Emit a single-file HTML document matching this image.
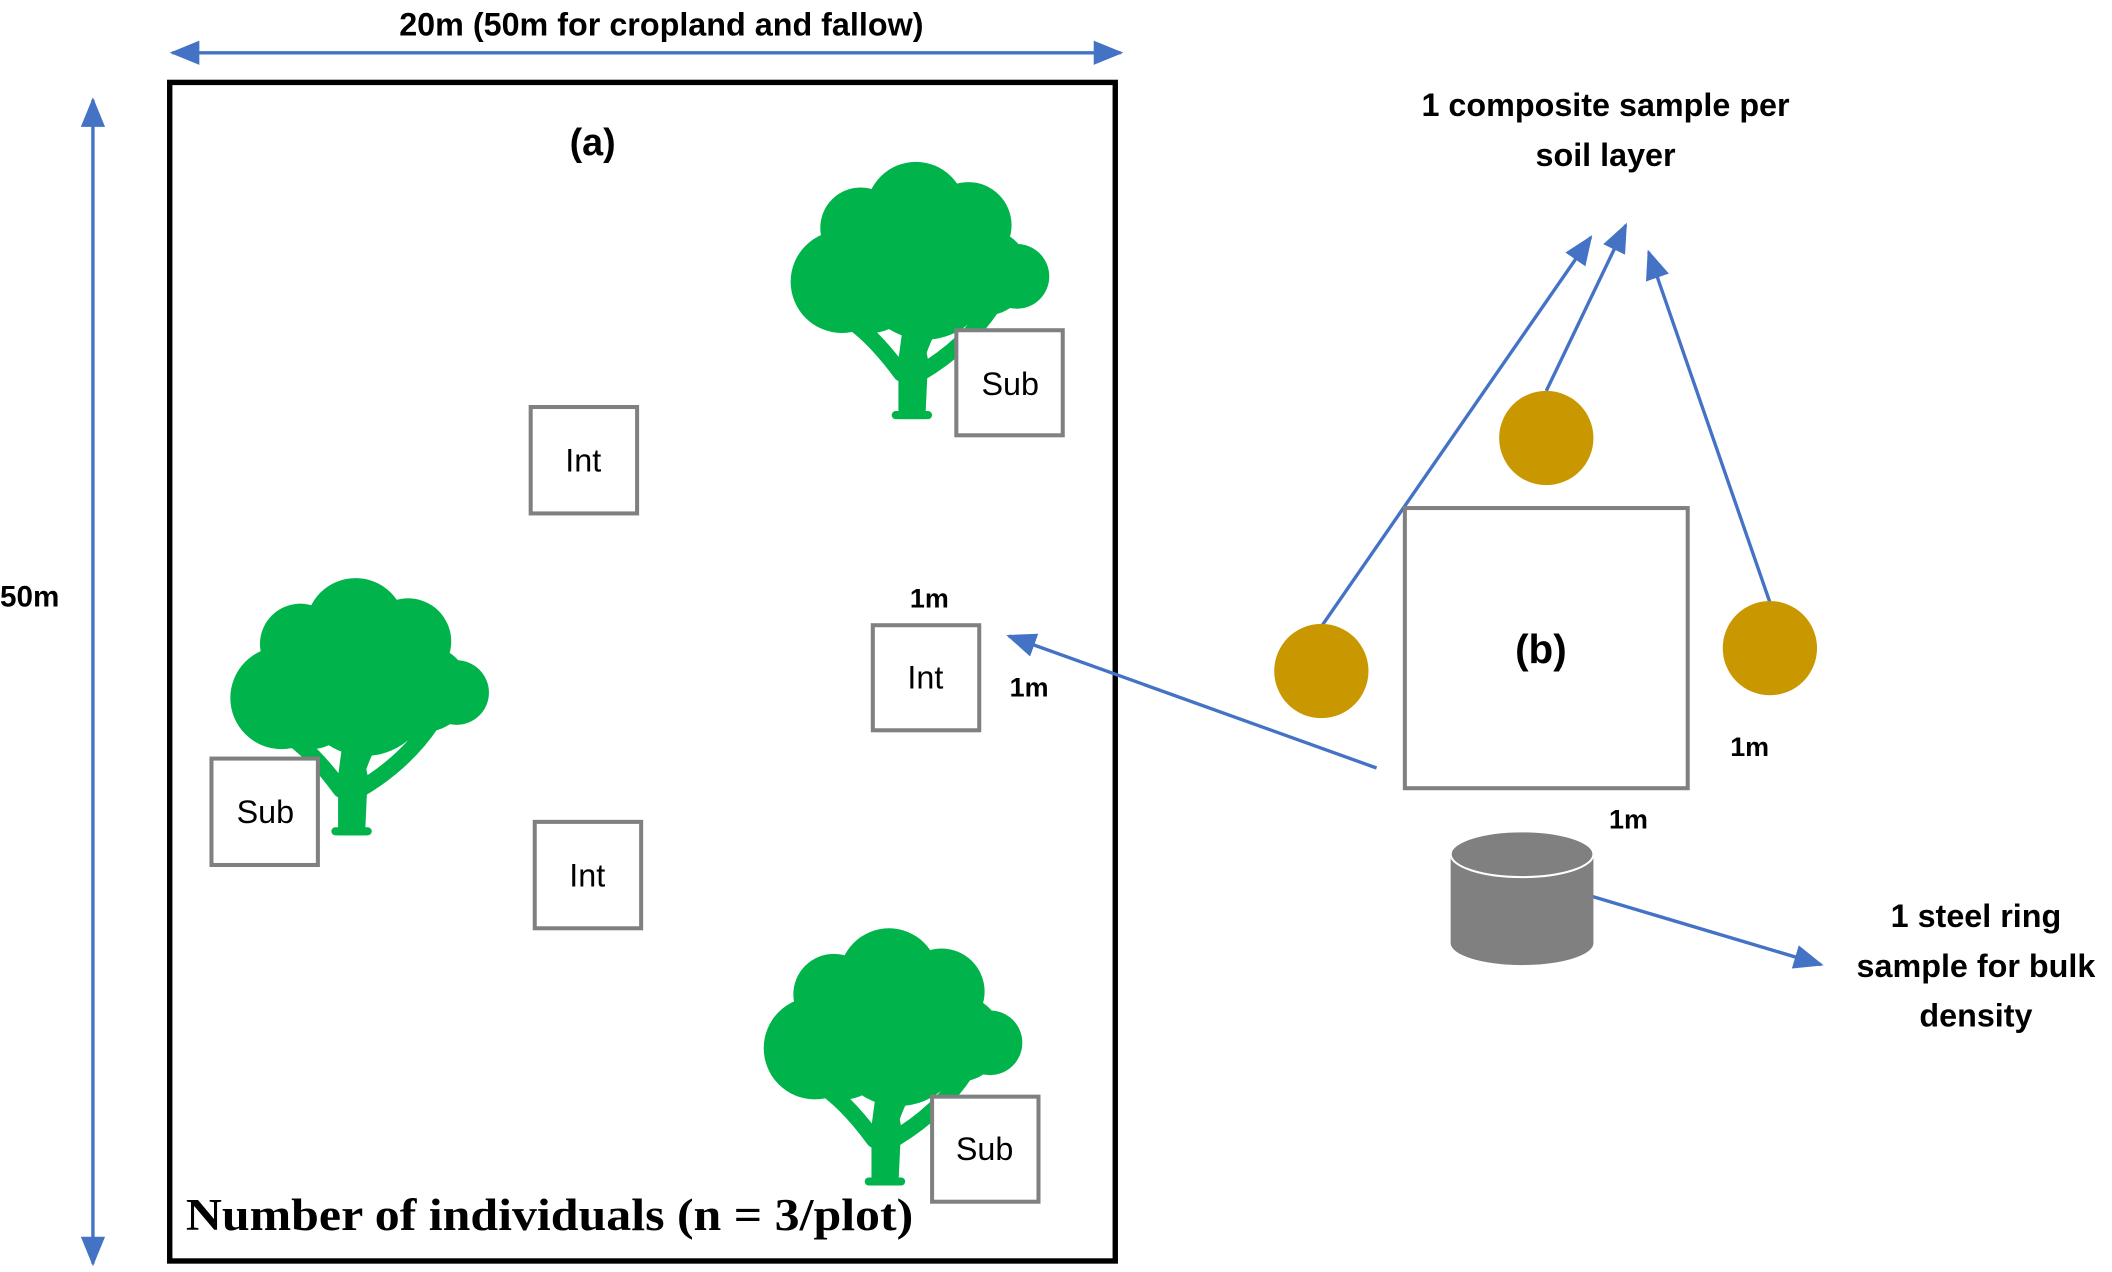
<!DOCTYPE html>
<html><head><meta charset="utf-8"><style>
html,body{margin:0;padding:0;background:#fff;}
svg{display:block}
text{font-family:"Liberation Sans",sans-serif;}
</style></head><body>
<svg width="2112" height="1272" viewBox="0 0 1568 944" xmlns="http://www.w3.org/2000/svg">
<defs>
<marker id="ah2" markerWidth="22" markerHeight="18" refX="20" refY="9" orient="auto" markerUnits="userSpaceOnUse">
<path d="M0,0 L22,9 L0,18 z" fill="#4472C4"/></marker>
<marker id="ah2s" markerWidth="22" markerHeight="18" refX="20" refY="9" orient="auto-start-reverse" markerUnits="userSpaceOnUse">
<path d="M0,0 L22,9 L0,18 z" fill="#4472C4"/></marker>
<g id="tree" fill="#00B34A">
<circle cx="93" cy="40" r="37"/>
<circle cx="52" cy="52" r="30"/>
<circle cx="132" cy="50" r="32"/>
<circle cx="38" cy="92" r="38"/>
<circle cx="168" cy="88" r="24"/>
<circle cx="100" cy="85" r="50"/>
<circle cx="145" cy="85" r="32"/>
<circle cx="60" cy="100" r="30"/>
<path d="M80,194 L80,150 L84,120 L96,120 L102,150 L100,194 Z"/>
<path d="M82,160 Q60,130 40,118" stroke="#00B34A" stroke-width="12" fill="none" stroke-linecap="round"/>
<path d="M92,150 Q92,130 78,112" stroke="#00B34A" stroke-width="10" fill="none" stroke-linecap="round"/>
<path d="M94,150 Q100,130 112,112" stroke="#00B34A" stroke-width="10" fill="none" stroke-linecap="round"/>
<path d="M96,160 Q130,140 150,110" stroke="#00B34A" stroke-width="12" fill="none" stroke-linecap="round"/>
<rect x="75" y="188" width="30" height="6" rx="3"/>
</g>
</defs>

<line x1="128" y1="39" x2="832" y2="39" stroke="#4472C4" stroke-width="2.5" marker-end="url(#ah2)" marker-start="url(#ah2s)"/>
<text x="491" y="26" font-size="24" font-weight="bold" text-anchor="middle">20m (50m for cropland and fallow)</text>
<line x1="69" y1="74" x2="69" y2="938" stroke="#4472C4" stroke-width="2.5" marker-end="url(#ah2)" marker-start="url(#ah2s)"/>
<text x="0" y="450" font-size="22" font-weight="bold">50m</text>

<rect x="126" y="61" width="702" height="875" fill="none" stroke="#000" stroke-width="4"/>
<text x="440" y="115" font-size="28" font-weight="bold" text-anchor="middle">(a)</text>

<use href="#tree" x="587" y="117"/>
<use href="#tree" x="171" y="426"/>
<use href="#tree" x="567" y="686"/>

<g fill="#fff" stroke="#808080" stroke-width="3">
<rect x="710" y="245" width="79" height="78"/>
<rect x="394" y="302" width="79" height="79"/>
<rect x="648" y="464" width="79" height="78"/>
<rect x="157" y="563" width="79" height="79"/>
<rect x="397" y="610" width="79" height="79"/>
<rect x="692" y="814" width="79" height="78"/>
</g>
<g font-size="24" text-anchor="middle" fill="#000">
<text x="750" y="293">Sub</text>
<text x="433" y="350">Int</text>
<text x="687" y="511">Int</text>
<text x="197" y="611">Sub</text>
<text x="436" y="658">Int</text>
<text x="731" y="861">Sub</text>
</g>
<text x="690" y="451" font-size="20" font-weight="bold" text-anchor="middle">1m</text>
<text x="764" y="517" font-size="20" font-weight="bold" text-anchor="middle">1m</text>

<text x="138" y="913" font-size="34" font-weight="bold" textLength="540" lengthAdjust="spacingAndGlyphs" style="font-family:'Liberation Serif',serif">Number of individuals (n = 3/plot)</text>

<text x="1192" y="86" font-size="24" font-weight="bold" text-anchor="middle">1 composite sample per</text>
<text x="1192" y="123" font-size="24" font-weight="bold" text-anchor="middle">soil layer</text>

<g stroke="#4472C4" stroke-width="2.5" fill="none">
<line x1="981" y1="465" x2="1181" y2="176" marker-end="url(#ah2)"/>
<line x1="1148" y1="290" x2="1207" y2="167" marker-end="url(#ah2)"/>
<line x1="1314" y1="447" x2="1224" y2="187" marker-end="url(#ah2)"/>
<line x1="1022" y1="570" x2="749" y2="472" marker-end="url(#ah2)"/>
<line x1="1181" y1="665" x2="1352" y2="716" marker-end="url(#ah2)"/>
</g>

<rect x="1043" y="377" width="210" height="208" fill="#fff" stroke="#808080" stroke-width="3"/>
<text x="1144" y="492" font-size="30" font-weight="bold" text-anchor="middle">(b)</text>
<text x="1299" y="561" font-size="20" font-weight="bold" text-anchor="middle">1m</text>
<text x="1209" y="615" font-size="20" font-weight="bold" text-anchor="middle">1m</text>

<g fill="#C99700">
<circle cx="1148" cy="325" r="35"/>
<circle cx="981" cy="498" r="35"/>
<circle cx="1314" cy="481" r="35"/>
</g>

<path d="M1077,634 L1077,700 A52,16 0 0 0 1183,700 L1183,634 Z" fill="#808080"/>
<ellipse cx="1130" cy="634" rx="53" ry="17" fill="#808080" stroke="#fff" stroke-width="1.5"/>

<g font-size="24" font-weight="bold" text-anchor="middle">
<text x="1467" y="688">1 steel ring</text>
<text x="1467" y="725">sample for bulk</text>
<text x="1467" y="762">density</text>
</g>
</svg>
</body></html>
